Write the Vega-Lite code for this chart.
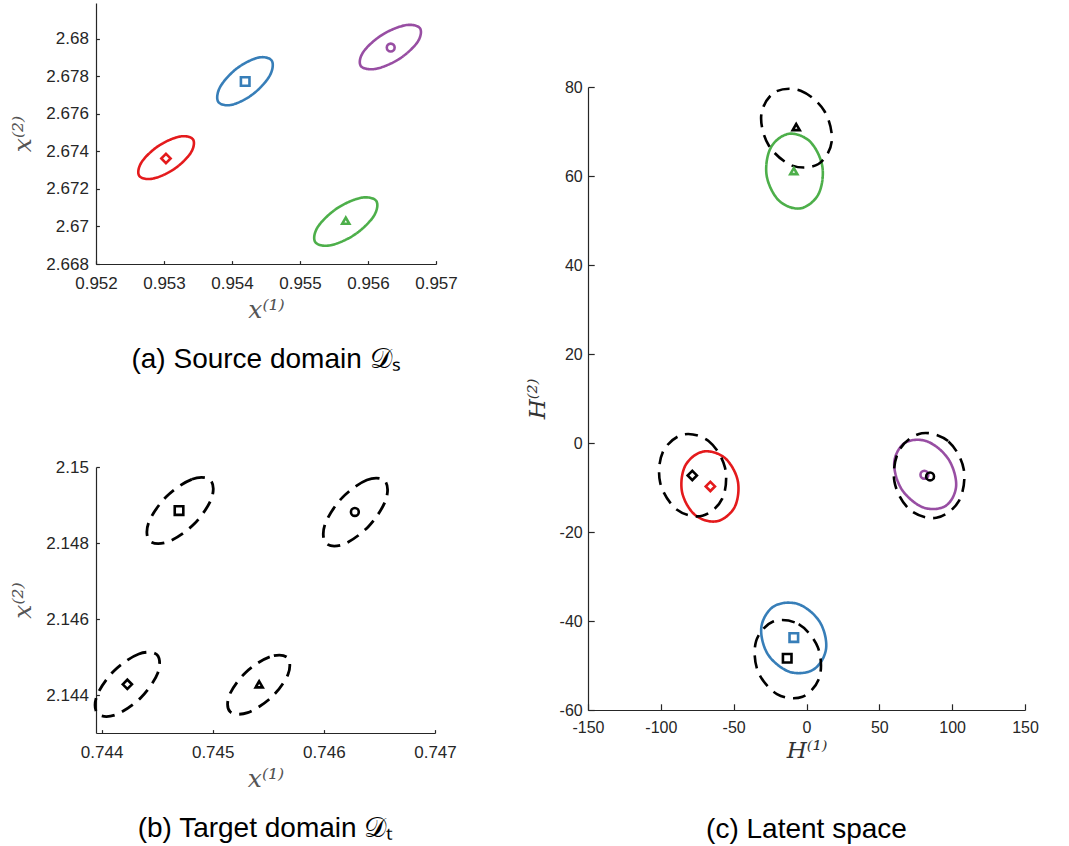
{
  "$schema": "https://vega.github.io/schema/vega-lite/v6.json",
  "background": "white",
  "padding": {"left": 10, "top": 3, "right": 5, "bottom": 5},
  "spacing": 68,
  "hconcat": [
    {
      "spacing": 84,
      "vconcat": [
        {
          "width": 340,
          "height": 261,
          "title": {"text": "(a) Source domain 𝒟ₛ", "orient": "bottom", "offset": 23},
          "encoding": {
            "x": {"field": "x", "type": "quantitative", "scale": {"domain": [0.952, 0.957], "nice": false, "zero": false},
                  "axis": {"values": [0.952, 0.953, 0.954, 0.955, 0.956, 0.957], "format": ".3~f", "title": "x⁽¹⁾", "tickSize": -3.4, "labelPadding": 15, "titlePadding": 6, "labelFontSize": 17}},
            "y": {"field": "y", "type": "quantitative", "scale": {"domain": [2.668, 2.6819], "nice": false, "zero": false},
                  "axis": {"values": [2.668, 2.67, 2.672, 2.674, 2.676, 2.678, 2.68], "format": ".3~f", "title": "x⁽²⁾", "tickSize": -3.4, "labelPadding": 11, "titlePadding": 10, "labelFontSize": 17}}
          },
          "layer": [
            {
              "data": {"name": "ea"},
              "mark": {"type": "line", "interpolate": "cardinal-closed", "strokeWidth": 2.6},
              "encoding": {
                "detail": {"field": "id"},
                "order": {"field": "o", "type": "quantitative"},
                "color": {"field": "c", "type": "nominal", "scale": {"domain": ["1", "2", "3", "4", "t"], "range": ["#e41a1c", "#377eb8", "#984ea3", "#4daf4a", "#000000"]}, "legend": null},
                "strokeDash": {"field": "d", "type": "nominal", "scale": {"domain": ["s", "t"], "range": [[1, 0], [13, 8]]}, "legend": null}
              }
            },
            {
              "data": {"name": "ma"},
              "mark": {"type": "point", "filled": false, "strokeWidth": 2.6, "opacity": 1},
              "encoding": {
                "shape": {"field": "s", "type": "nominal", "scale": {"domain": ["1", "2", "3", "4"], "range": ["diamond", "square", "circle", "triangle-up"]}, "legend": null},
                "size": {"field": "s", "type": "ordinal", "scale": {"domain": ["1", "2", "3", "4"], "range": [85, 50, 56, 115]}, "legend": null},
                "color": {"field": "c", "type": "nominal", "scale": {"domain": ["1", "2", "3", "4", "t"], "range": ["#e41a1c", "#377eb8", "#984ea3", "#4daf4a", "#000000"]}, "legend": null}
              }
            }
          ]
        },
        {
          "width": 339,
          "height": 266,
          "title": {"text": "(b) Target domain 𝒟ₜ", "orient": "bottom", "offset": 23},
          "encoding": {
            "x": {"field": "x", "type": "quantitative", "scale": {"domain": [0.74395, 0.747], "nice": false, "zero": false},
                  "axis": {"values": [0.744, 0.745, 0.746, 0.747], "format": ".3~f", "title": "x⁽¹⁾", "tickSize": -3.4, "labelPadding": 15, "titlePadding": 6, "labelFontSize": 17}},
            "y": {"field": "y", "type": "quantitative", "scale": {"domain": [2.143, 2.15], "nice": false, "zero": false},
                  "axis": {"values": [2.144, 2.146, 2.148, 2.15], "format": ".3~f", "title": "x⁽²⁾", "tickSize": -3.4, "labelPadding": 11, "titlePadding": 10, "labelFontSize": 17}}
          },
          "layer": [
            {
              "data": {"name": "eb"},
              "mark": {"type": "line", "interpolate": "cardinal-closed", "strokeWidth": 2.8},
              "encoding": {
                "detail": {"field": "id"},
                "order": {"field": "o", "type": "quantitative"},
                "color": {"field": "c", "type": "nominal", "scale": {"domain": ["1", "2", "3", "4", "t"], "range": ["#e41a1c", "#377eb8", "#984ea3", "#4daf4a", "#000000"]}, "legend": null},
                "strokeDash": {"field": "d", "type": "nominal", "scale": {"domain": ["s", "t"], "range": [[1, 0], [13, 8]]}, "legend": null}
              }
            },
            {
              "data": {"name": "mb"},
              "mark": {"type": "point", "filled": false, "strokeWidth": 2.6, "opacity": 1},
              "encoding": {
                "shape": {"field": "s", "type": "nominal", "scale": {"domain": ["1", "2", "3", "4"], "range": ["diamond", "square", "circle", "triangle-up"]}, "legend": null},
                "size": {"field": "s", "type": "ordinal", "scale": {"domain": ["1", "2", "3", "4"], "range": [85, 50, 56, 115]}, "legend": null},
                "color": {"field": "c", "type": "nominal", "scale": {"domain": ["1", "2", "3", "4", "t"], "range": ["#e41a1c", "#377eb8", "#984ea3", "#4daf4a", "#000000"]}, "legend": null}
              }
            }
          ]
        }
      ]
    },
    {
      "spacing": 0,
      "vconcat": [
        {
          "width": 437,
          "height": 76,
          "data": {"values": []},
          "mark": {"type": "point"}
        },
        {
          "width": 437,
          "height": 623,
          "title": {"text": "(c) Latent space", "orient": "bottom", "offset": 53},
          "encoding": {
            "x": {"field": "x", "type": "quantitative", "scale": {"domain": [-150, 150], "nice": false, "zero": false},
                  "axis": {"values": [-150, -100, -50, 0, 50, 100, 150], "labelExpr": "datum.value < 0 ? '-' + abs(datum.value) : '' + datum.value", "title": "H⁽¹⁾", "tickSize": -6.2, "labelPadding": 16, "titlePadding": 4, "titleColor": "#333333", "titleFontSize": 23}},
            "y": {"field": "y", "type": "quantitative", "scale": {"domain": [-60, 80], "nice": false, "zero": false},
                  "axis": {"values": [-60, -40, -20, 0, 20, 40, 60, 80], "labelExpr": "datum.value < 0 ? '-' + abs(datum.value) : '' + datum.value", "title": "H⁽²⁾", "tickSize": -6.2, "labelPadding": 12, "titlePadding": 10, "titleColor": "#333333", "titleFontSize": 23}}
          },
          "layer": [
            {
              "data": {"name": "ec"},
              "mark": {"type": "line", "interpolate": "cardinal-closed", "strokeWidth": 2.6},
              "encoding": {
                "detail": {"field": "id"},
                "order": {"field": "o", "type": "quantitative"},
                "color": {"field": "c", "type": "nominal", "scale": {"domain": ["1", "2", "3", "4", "t"], "range": ["#e41a1c", "#377eb8", "#984ea3", "#4daf4a", "#000000"]}, "legend": null},
                "strokeDash": {"field": "d", "type": "nominal", "scale": {"domain": ["s", "t"], "range": [[1, 0], [14, 8]]}, "legend": null}
              }
            },
            {
              "data": {"name": "mc"},
              "mark": {"type": "point", "filled": false, "strokeWidth": 2.6, "opacity": 1},
              "encoding": {
                "shape": {"field": "s", "type": "nominal", "scale": {"domain": ["1", "2", "3", "4"], "range": ["diamond", "square", "circle", "triangle-up"]}, "legend": null},
                "size": {"field": "s", "type": "ordinal", "scale": {"domain": ["1", "2", "3", "4"], "range": [85, 50, 56, 115]}, "legend": null},
                "color": {"field": "c", "type": "nominal", "scale": {"domain": ["1", "2", "3", "4", "t"], "range": ["#e41a1c", "#377eb8", "#984ea3", "#4daf4a", "#000000"]}, "legend": null}
              }
            }
          ]
        }
      ]
    }
  ],
  "datasets": {
    "ea": [
      {"id": "a1", "c": "1", "d": "s", "o": 0, "x": 0.953427, "y": 2.674632},
      {"id": "a1", "c": "1", "d": "s", "o": 1, "x": 0.953230, "y": 2.674785},
      {"id": "a1", "c": "1", "d": "s", "o": 2, "x": 0.952916, "y": 2.674283},
      {"id": "a1", "c": "1", "d": "s", "o": 3, "x": 0.952670, "y": 2.673418},
      {"id": "a1", "c": "1", "d": "s", "o": 4, "x": 0.952635, "y": 2.672699},
      {"id": "a1", "c": "1", "d": "s", "o": 5, "x": 0.952833, "y": 2.672545},
      {"id": "a1", "c": "1", "d": "s", "o": 6, "x": 0.953146, "y": 2.673047},
      {"id": "a1", "c": "1", "d": "s", "o": 7, "x": 0.953392, "y": 2.673912},
      {"id": "a2", "c": "2", "d": "s", "o": 0, "x": 0.954586, "y": 2.678819},
      {"id": "a2", "c": "2", "d": "s", "o": 1, "x": 0.954389, "y": 2.678992},
      {"id": "a2", "c": "2", "d": "s", "o": 2, "x": 0.954076, "y": 2.678428},
      {"id": "a2", "c": "2", "d": "s", "o": 3, "x": 0.953830, "y": 2.677457},
      {"id": "a2", "c": "2", "d": "s", "o": 4, "x": 0.953796, "y": 2.676649},
      {"id": "a2", "c": "2", "d": "s", "o": 5, "x": 0.953993, "y": 2.676476},
      {"id": "a2", "c": "2", "d": "s", "o": 6, "x": 0.954306, "y": 2.677040},
      {"id": "a2", "c": "2", "d": "s", "o": 7, "x": 0.954552, "y": 2.678011},
      {"id": "a3", "c": "3", "d": "s", "o": 0, "x": 0.956764, "y": 2.680555},
      {"id": "a3", "c": "3", "d": "s", "o": 1, "x": 0.956547, "y": 2.680715},
      {"id": "a3", "c": "3", "d": "s", "o": 2, "x": 0.956203, "y": 2.680194},
      {"id": "a3", "c": "3", "d": "s", "o": 3, "x": 0.955932, "y": 2.679297},
      {"id": "a3", "c": "3", "d": "s", "o": 4, "x": 0.955894, "y": 2.678551},
      {"id": "a3", "c": "3", "d": "s", "o": 5, "x": 0.956111, "y": 2.678391},
      {"id": "a3", "c": "3", "d": "s", "o": 6, "x": 0.956456, "y": 2.678913},
      {"id": "a3", "c": "3", "d": "s", "o": 7, "x": 0.956726, "y": 2.679809},
      {"id": "a4", "c": "4", "d": "s", "o": 0, "x": 0.956122, "y": 2.671353},
      {"id": "a4", "c": "4", "d": "s", "o": 1, "x": 0.955898, "y": 2.671527},
      {"id": "a4", "c": "4", "d": "s", "o": 2, "x": 0.955543, "y": 2.670959},
      {"id": "a4", "c": "4", "d": "s", "o": 3, "x": 0.955263, "y": 2.669982},
      {"id": "a4", "c": "4", "d": "s", "o": 4, "x": 0.955224, "y": 2.669169},
      {"id": "a4", "c": "4", "d": "s", "o": 5, "x": 0.955448, "y": 2.668995},
      {"id": "a4", "c": "4", "d": "s", "o": 6, "x": 0.955804, "y": 2.669563},
      {"id": "a4", "c": "4", "d": "s", "o": 7, "x": 0.956083, "y": 2.670540}
    ],
    "ma": [
      {"s": "1", "c": "1", "x": 0.953029, "y": 2.673622},
      {"s": "2", "c": "2", "x": 0.954194, "y": 2.677718},
      {"s": "3", "c": "3", "x": 0.956334, "y": 2.679527},
      {"s": "4", "c": "4", "x": 0.955673, "y": 2.670303}
    ],
    "eb": [
      {"id": "b1", "c": "t", "d": "t", "o": 0, "x": 0.744980, "y": 2.149653},
      {"id": "b1", "c": "t", "d": "t", "o": 1, "x": 0.744812, "y": 2.149675},
      {"id": "b1", "c": "t", "d": "t", "o": 2, "x": 0.744582, "y": 2.149216},
      {"id": "b1", "c": "t", "d": "t", "o": 3, "x": 0.744425, "y": 2.148545},
      {"id": "b1", "c": "t", "d": "t", "o": 4, "x": 0.744432, "y": 2.148055},
      {"id": "b1", "c": "t", "d": "t", "o": 5, "x": 0.744600, "y": 2.148033},
      {"id": "b1", "c": "t", "d": "t", "o": 6, "x": 0.744830, "y": 2.148492},
      {"id": "b1", "c": "t", "d": "t", "o": 7, "x": 0.744988, "y": 2.149163},
      {"id": "b2", "c": "t", "d": "t", "o": 0, "x": 0.746549, "y": 2.149636},
      {"id": "b2", "c": "t", "d": "t", "o": 1, "x": 0.746387, "y": 2.149659},
      {"id": "b2", "c": "t", "d": "t", "o": 2, "x": 0.746164, "y": 2.149188},
      {"id": "b2", "c": "t", "d": "t", "o": 3, "x": 0.746011, "y": 2.148498},
      {"id": "b2", "c": "t", "d": "t", "o": 4, "x": 0.746019, "y": 2.147994},
      {"id": "b2", "c": "t", "d": "t", "o": 5, "x": 0.746181, "y": 2.147971},
      {"id": "b2", "c": "t", "d": "t", "o": 6, "x": 0.746404, "y": 2.148443},
      {"id": "b2", "c": "t", "d": "t", "o": 7, "x": 0.746557, "y": 2.149132},
      {"id": "b3", "c": "t", "d": "t", "o": 0, "x": 0.744499, "y": 2.145058},
      {"id": "b3", "c": "t", "d": "t", "o": 1, "x": 0.744335, "y": 2.145080},
      {"id": "b3", "c": "t", "d": "t", "o": 2, "x": 0.744111, "y": 2.144634},
      {"id": "b3", "c": "t", "d": "t", "o": 3, "x": 0.743958, "y": 2.143981},
      {"id": "b3", "c": "t", "d": "t", "o": 4, "x": 0.743966, "y": 2.143504},
      {"id": "b3", "c": "t", "d": "t", "o": 5, "x": 0.744129, "y": 2.143482},
      {"id": "b3", "c": "t", "d": "t", "o": 6, "x": 0.744353, "y": 2.143928},
      {"id": "b3", "c": "t", "d": "t", "o": 7, "x": 0.744506, "y": 2.144581},
      {"id": "b4", "c": "t", "d": "t", "o": 0, "x": 0.745671, "y": 2.144985},
      {"id": "b4", "c": "t", "d": "t", "o": 1, "x": 0.745513, "y": 2.145005},
      {"id": "b4", "c": "t", "d": "t", "o": 2, "x": 0.745297, "y": 2.144595},
      {"id": "b4", "c": "t", "d": "t", "o": 3, "x": 0.745150, "y": 2.143995},
      {"id": "b4", "c": "t", "d": "t", "o": 4, "x": 0.745157, "y": 2.143557},
      {"id": "b4", "c": "t", "d": "t", "o": 5, "x": 0.745315, "y": 2.143537},
      {"id": "b4", "c": "t", "d": "t", "o": 6, "x": 0.745531, "y": 2.143947},
      {"id": "b4", "c": "t", "d": "t", "o": 7, "x": 0.745678, "y": 2.144547}
    ],
    "mb": [
      {"s": "1", "c": "t", "x": 0.744232, "y": 2.144281},
      {"s": "2", "c": "t", "x": 0.744697, "y": 2.148854},
      {"s": "3", "c": "t", "x": 0.746279, "y": 2.148817},
      {"s": "4", "c": "t", "x": 0.745418, "y": 2.144281}
    ],
    "ec": [
      {"id": "c1", "c": "1", "d": "s", "o": 0, "x": -71.2, "y": -1.94},
      {"id": "c1", "c": "1", "d": "s", "o": 1, "x": -56.2, "y": -3.32},
      {"id": "c1", "c": "1", "d": "s", "o": 2, "x": -47.2, "y": -8.47},
      {"id": "c1", "c": "1", "d": "s", "o": 3, "x": -49.3, "y": -14.38},
      {"id": "c1", "c": "1", "d": "s", "o": 4, "x": -61.4, "y": -17.58},
      {"id": "c1", "c": "1", "d": "s", "o": 5, "x": -76.4, "y": -16.2},
      {"id": "c1", "c": "1", "d": "s", "o": 6, "x": -85.4, "y": -11.05},
      {"id": "c1", "c": "1", "d": "s", "o": 7, "x": -83.3, "y": -5.14},
      {"id": "c2", "c": "2", "d": "s", "o": 0, "x": -22.49, "y": -36.72},
      {"id": "c2", "c": "2", "d": "s", "o": 1, "x": -5.95, "y": -36.18},
      {"id": "c2", "c": "2", "d": "s", "o": 2, "x": 8.94, "y": -40.11},
      {"id": "c2", "c": "2", "d": "s", "o": 3, "x": 13.44, "y": -46.2},
      {"id": "c2", "c": "2", "d": "s", "o": 4, "x": 4.93, "y": -50.88},
      {"id": "c2", "c": "2", "d": "s", "o": 5, "x": -11.61, "y": -51.42},
      {"id": "c2", "c": "2", "d": "s", "o": 6, "x": -26.5, "y": -47.49},
      {"id": "c2", "c": "2", "d": "s", "o": 7, "x": -31.0, "y": -41.4},
      {"id": "c3", "c": "3", "d": "s", "o": 0, "x": 67.39, "y": 0.0},
      {"id": "c3", "c": "3", "d": "s", "o": 1, "x": 82.8, "y": 0.36},
      {"id": "c3", "c": "3", "d": "s", "o": 2, "x": 97.44, "y": -3.63},
      {"id": "c3", "c": "3", "d": "s", "o": 3, "x": 102.73, "y": -9.63},
      {"id": "c3", "c": "3", "d": "s", "o": 4, "x": 95.57, "y": -14.12},
      {"id": "c3", "c": "3", "d": "s", "o": 5, "x": 80.16, "y": -14.48},
      {"id": "c3", "c": "3", "d": "s", "o": 6, "x": 65.52, "y": -10.49},
      {"id": "c3", "c": "3", "d": "s", "o": 7, "x": 60.23, "y": -4.49},
      {"id": "c4", "c": "4", "d": "s", "o": 0, "x": -12.19, "y": 69.48},
      {"id": "c4", "c": "4", "d": "s", "o": 1, "x": 2.5, "y": 67.71},
      {"id": "c4", "c": "4", "d": "s", "o": 2, "x": 10.91, "y": 62.07},
      {"id": "c4", "c": "4", "d": "s", "o": 3, "x": 8.1, "y": 55.86},
      {"id": "c4", "c": "4", "d": "s", "o": 4, "x": -4.27, "y": 52.72},
      {"id": "c4", "c": "4", "d": "s", "o": 5, "x": -18.96, "y": 54.49},
      {"id": "c4", "c": "4", "d": "s", "o": 6, "x": -27.37, "y": 60.13},
      {"id": "c4", "c": "4", "d": "s", "o": 7, "x": -24.56, "y": 66.34},
      {"id": "t1", "c": "t", "d": "t", "o": 0, "x": -84.9, "y": 1.88},
      {"id": "t1", "c": "t", "d": "t", "o": 1, "x": -67.25, "y": 0.45},
      {"id": "t1", "c": "t", "d": "t", "o": 2, "x": -55.99, "y": -5.48},
      {"id": "t1", "c": "t", "d": "t", "o": 3, "x": -57.74, "y": -12.44},
      {"id": "t1", "c": "t", "d": "t", "o": 4, "x": -71.47, "y": -16.36},
      {"id": "t1", "c": "t", "d": "t", "o": 5, "x": -89.13, "y": -14.93},
      {"id": "t1", "c": "t", "d": "t", "o": 6, "x": -100.39, "y": -9.0},
      {"id": "t1", "c": "t", "d": "t", "o": 7, "x": -98.64, "y": -2.04},
      {"id": "t2", "c": "t", "d": "t", "o": 0, "x": -22.92, "y": -40.13},
      {"id": "t2", "c": "t", "d": "t", "o": 1, "x": -5.38, "y": -40.73},
      {"id": "t2", "c": "t", "d": "t", "o": 2, "x": 7.79, "y": -45.92},
      {"id": "t2", "c": "t", "d": "t", "o": 3, "x": 8.88, "y": -52.66},
      {"id": "t2", "c": "t", "d": "t", "o": 4, "x": -2.74, "y": -57.01},
      {"id": "t2", "c": "t", "d": "t", "o": 5, "x": -20.28, "y": -56.41},
      {"id": "t2", "c": "t", "d": "t", "o": 6, "x": -33.45, "y": -51.22},
      {"id": "t2", "c": "t", "d": "t", "o": 7, "x": -34.54, "y": -44.48},
      {"id": "t3", "c": "t", "d": "t", "o": 0, "x": 79.13, "y": 2.19},
      {"id": "t3", "c": "t", "d": "t", "o": 1, "x": 97.45, "y": 0.36},
      {"id": "t3", "c": "t", "d": "t", "o": 2, "x": 107.97, "y": -5.95},
      {"id": "t3", "c": "t", "d": "t", "o": 3, "x": 104.55, "y": -13.06},
      {"id": "t3", "c": "t", "d": "t", "o": 4, "x": 89.19, "y": -16.81},
      {"id": "t3", "c": "t", "d": "t", "o": 5, "x": 70.87, "y": -14.98},
      {"id": "t3", "c": "t", "d": "t", "o": 6, "x": 60.35, "y": -8.67},
      {"id": "t3", "c": "t", "d": "t", "o": 7, "x": 63.77, "y": -1.56},
      {"id": "t4", "c": "t", "d": "t", "o": 0, "x": -21.95, "y": 78.8},
      {"id": "t4", "c": "t", "d": "t", "o": 1, "x": -4.02, "y": 79.17},
      {"id": "t4", "c": "t", "d": "t", "o": 2, "x": 12.25, "y": 74.6},
      {"id": "t4", "c": "t", "d": "t", "o": 3, "x": 17.32, "y": 67.78},
      {"id": "t4", "c": "t", "d": "t", "o": 4, "x": 8.23, "y": 62.7},
      {"id": "t4", "c": "t", "d": "t", "o": 5, "x": -9.7, "y": 62.33},
      {"id": "t4", "c": "t", "d": "t", "o": 6, "x": -25.97, "y": 66.9},
      {"id": "t4", "c": "t", "d": "t", "o": 7, "x": -31.04, "y": 73.72}
    ],
    "mc": [
      {"s": "1", "c": "1", "x": -66.0, "y": -9.76},
      {"s": "2", "c": "2", "x": -8.71, "y": -43.73},
      {"s": "3", "c": "3", "x": 80.93, "y": -7.13},
      {"s": "4", "c": "4", "x": -8.71, "y": 61.1},
      {"s": "1", "c": "t", "x": -78.4, "y": -7.29},
      {"s": "2", "c": "t", "x": -13.24, "y": -48.37},
      {"s": "3", "c": "t", "x": 84.84, "y": -7.51},
      {"s": "4", "c": "t", "x": -7.06, "y": 71.0}
    ]
  },
  "config": {
    "view": {"stroke": null},
    "axis": {"grid": false, "labelFlush": false, "domainColor": "#262626", "tickColor": "#262626", "labelColor": "#262626", "labelFont": "Liberation Sans", "labelFontSize": 16, "titleFont": "DejaVu Serif", "titleFontStyle": "italic", "titleFontWeight": "normal", "titleFontSize": 25, "titleColor": "#555555", "domainWidth": 1.2, "tickWidth": 1.2},
    "title": {"font": "Liberation Sans", "fontSize": 28, "fontWeight": "normal", "color": "#000000"},
    "legend": {"disable": true}
  }
}
